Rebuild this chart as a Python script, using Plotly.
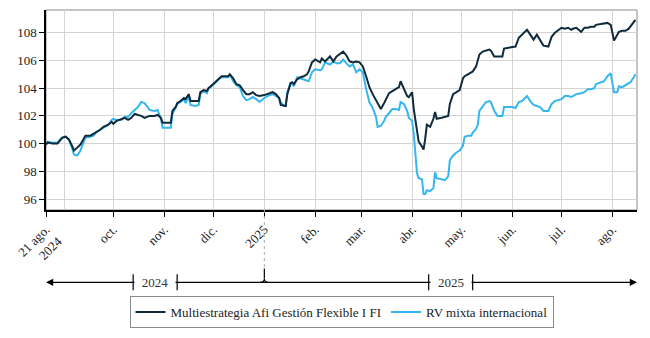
import pandas as pd
import plotly.graph_objects as go

# Índice base 100 (21 ago. 2024)
dates = [
    "2024-08-21", "2024-08-22", "2024-08-25", "2024-08-28", "2024-08-30", "2024-08-31",
    "2024-09-02", "2024-09-04", "2024-09-06", "2024-09-07", "2024-09-09", "2024-09-11",
    "2024-09-13", "2024-09-14", "2024-09-17", "2024-09-19", "2024-09-21", "2024-09-23",
    "2024-09-25", "2024-09-28", "2024-09-30", "2024-10-01", "2024-10-03", "2024-10-06",
    "2024-10-08", "2024-10-10", "2024-10-12", "2024-10-14", "2024-10-16", "2024-10-18",
    "2024-10-20", "2024-10-22", "2024-10-23", "2024-10-26", "2024-10-28", "2024-10-30",
    "2024-10-31", "2024-11-02", "2024-11-05", "2024-11-06", "2024-11-08", "2024-11-09",
    "2024-11-11", "2024-11-13", "2024-11-14", "2024-11-16", "2024-11-17", "2024-11-20",
    "2024-11-22", "2024-11-23", "2024-11-25", "2024-11-27", "2024-11-28", "2024-11-30",
    "2024-12-02", "2024-12-04", "2024-12-06", "2024-12-08", "2024-12-10", "2024-12-11",
    "2024-12-13", "2024-12-15", "2024-12-17", "2024-12-19", "2024-12-21", "2024-12-23",
    "2024-12-25", "2024-12-27", "2024-12-29", "2025-01-01", "2025-01-03", "2025-01-06",
    "2025-01-08", "2025-01-10", "2025-01-11", "2025-01-13", "2025-01-14", "2025-01-15",
    "2025-01-17", "2025-01-18", "2025-01-19", "2025-01-21", "2025-01-23", "2025-01-25",
    "2025-01-27", "2025-01-28", "2025-01-30", "2025-02-01", "2025-02-04", "2025-02-05",
    "2025-02-07", "2025-02-10", "2025-02-12", "2025-02-14", "2025-02-16", "2025-02-18",
    "2025-02-20", "2025-02-22", "2025-02-24", "2025-02-26", "2025-02-28", "2025-03-02",
    "2025-03-04", "2025-03-06", "2025-03-08", "2025-03-10", "2025-03-11", "2025-03-13",
    "2025-03-15", "2025-03-16", "2025-03-18", "2025-03-20", "2025-03-22", "2025-03-24",
    "2025-03-25", "2025-03-27", "2025-03-29", "2025-03-30", "2025-04-01", "2025-04-02",
    "2025-04-04", "2025-04-05", "2025-04-07", "2025-04-08", "2025-04-09", "2025-04-10",
    "2025-04-12", "2025-04-14", "2025-04-15", "2025-04-16", "2025-04-19", "2025-04-21",
    "2025-04-23", "2025-04-24", "2025-04-26", "2025-04-28", "2025-04-30", "2025-05-02",
    "2025-05-03", "2025-05-05", "2025-05-07", "2025-05-08", "2025-05-10", "2025-05-11",
    "2025-05-12", "2025-05-14", "2025-05-16", "2025-05-18", "2025-05-19", "2025-05-21",
    "2025-05-23", "2025-05-25", "2025-05-26", "2025-05-27", "2025-05-30", "2025-06-01",
    "2025-06-03", "2025-06-05", "2025-06-07", "2025-06-09", "2025-06-10", "2025-06-12",
    "2025-06-14", "2025-06-16", "2025-06-18", "2025-06-20", "2025-06-23", "2025-06-25",
    "2025-06-27", "2025-06-29", "2025-07-01", "2025-07-03", "2025-07-05", "2025-07-07",
    "2025-07-08", "2025-07-10", "2025-07-13", "2025-07-15", "2025-07-17", "2025-07-19",
    "2025-07-21", "2025-07-22", "2025-07-25", "2025-07-27", "2025-07-29", "2025-07-31",
    "2025-08-01", "2025-08-02", "2025-08-04", "2025-08-05", "2025-08-07", "2025-08-09",
    "2025-08-11", "2025-08-12", "2025-08-14", "2025-08-15",
]

fondo = [
    99.93, 100.07, 100.00, 100.00, 100.29, 100.43,
    100.50, 100.29, 99.80, 99.50, 99.71, 99.93,
    100.36, 100.57, 100.57, 100.71, 100.86, 101.00,
    101.21, 101.36, 101.57, 101.43, 101.64, 101.79,
    101.86, 101.71, 101.86, 102.14, 102.07, 102.00,
    101.86, 101.93, 102.00, 102.00, 102.07, 101.86,
    101.50, 101.50, 101.50, 102.36, 102.64, 102.93,
    103.07, 103.29, 103.21, 103.57, 103.07, 103.07,
    103.07, 103.71, 103.86, 103.79, 104.00, 104.21,
    104.43, 104.71, 104.86, 104.86, 104.86, 105.00,
    104.71, 104.29, 104.21, 103.86, 103.57, 103.57,
    103.71, 103.50, 103.43, 103.50, 103.57, 103.71,
    103.57, 103.29, 102.79, 102.71, 102.71, 103.57,
    104.36, 104.43, 104.29, 104.64, 104.79, 104.86,
    105.00, 105.21, 105.86, 106.07, 105.86, 106.14,
    105.93, 106.29, 105.93, 106.29, 106.50, 106.64,
    106.36, 105.93, 105.86, 105.93, 105.86, 105.57,
    104.86, 104.07, 103.57, 103.14, 102.86, 102.50,
    102.93, 103.21, 103.64, 103.79, 103.93, 104.07,
    104.50, 103.93, 103.43, 103.36, 103.71, 102.50,
    100.71, 100.14, 99.79, 99.57, 100.36, 101.36,
    101.21, 101.79, 102.29, 101.79, 101.86, 101.93,
    102.00, 102.86, 103.57, 103.71, 103.86, 104.71,
    104.86, 105.00, 105.14, 105.21, 105.57, 106.07,
    106.43, 106.64, 106.71, 106.79, 106.71, 106.29,
    106.29, 106.29, 106.29, 106.86, 106.93, 106.93,
    107.00, 107.64, 107.86, 108.07, 108.21, 107.86,
    107.50, 107.86, 107.50, 107.07, 107.00, 107.71,
    108.00, 108.21, 108.36, 108.29, 108.36, 108.21,
    108.29, 108.36, 108.07, 108.36, 108.36, 108.43,
    108.43, 108.57, 108.64, 108.71, 108.71, 108.57,
    108.07, 107.43, 107.86, 108.07, 108.14, 108.14,
    108.29, 108.43, 108.79, 108.93,
]

categoria = [
    99.93, 100.14, 100.07, 100.07, 100.36, 100.43,
    100.50, 100.29, 99.64, 99.21, 99.14, 99.50,
    100.14, 100.43, 100.50, 100.57, 100.86, 101.00,
    101.14, 101.36, 101.71, 101.79, 101.71, 101.71,
    101.93, 101.93, 102.21, 102.43, 102.64, 103.00,
    102.93, 102.64, 102.43, 102.36, 102.43, 101.79,
    101.14, 101.14, 101.14, 102.14, 102.57, 102.86,
    103.00, 103.21, 102.93, 103.43, 102.79, 102.71,
    102.79, 103.57, 103.79, 103.64, 104.00, 104.14,
    104.36, 104.64, 104.79, 104.79, 104.79, 105.00,
    104.50, 104.21, 104.07, 103.43, 103.14, 103.21,
    103.36, 103.21, 103.00, 103.29, 103.43, 103.57,
    103.43, 103.29, 103.00, 102.71, 102.71, 103.71,
    104.43, 104.29, 104.14, 104.79, 104.71, 104.64,
    104.57, 104.50, 105.14, 105.36, 105.29, 105.36,
    105.86, 105.71, 105.93, 105.79, 105.79, 106.07,
    105.79, 105.57, 105.71, 105.14, 105.36, 105.14,
    103.93, 103.00, 102.57, 101.93, 101.21, 101.29,
    101.64, 101.93, 102.21, 102.50, 102.50, 102.43,
    103.00, 102.86, 102.36, 101.86, 101.64, 100.71,
    97.86, 97.50, 97.43, 96.36, 96.36, 96.64,
    96.57, 96.79, 97.93, 97.50, 97.43, 97.36,
    97.64, 98.79, 99.14, 99.36, 99.50, 99.86,
    100.50, 100.57, 100.57, 100.79, 101.07, 101.36,
    102.36, 102.71, 103.00, 103.07, 103.00, 102.36,
    102.00, 102.00, 102.00, 102.64, 102.64, 102.64,
    102.57, 103.00, 103.07, 103.36, 103.43, 103.07,
    102.79, 102.71, 102.64, 102.36, 102.36, 102.86,
    103.07, 103.14, 103.21, 103.43, 103.43, 103.36,
    103.43, 103.57, 103.64, 103.71, 103.93, 103.93,
    104.00, 104.29, 104.43, 104.50, 104.86, 105.07,
    104.36, 103.71, 103.71, 104.14, 104.07, 104.21,
    104.36, 104.43, 104.79, 105.00,
]

series_names = ["Multiestrategia Afi Gestión Flexible I FI", "RV mixta internacional"]
series_colors = ["#0e2a3b", "#35b6ee"]

x_start, x_end = "2024-08-21", "2025-08-16"
y_min, y_max = 95.21, 109.64

tick_dates = ["2024-08-21", "2024-10-01", "2024-11-01", "2024-12-01", "2025-01-01",
              "2025-02-01", "2025-03-01", "2025-04-01", "2025-05-01", "2025-06-01",
              "2025-07-01", "2025-08-01"]
tick_labels = ["21 ago.<br>2024", "oct.", "nov.", "dic.", "2025", "feb.", "mar.",
               "abr.", "may.", "jun.", "jul.", "ago."]
grid_only_dates = ["2024-09-01"]
y_ticks = [96, 98, 100, 102, 104, 106, 108]

year_break = "2025-01-01"
year_labels = ["2024", "2025"]

FONT = "Liberation Serif"
TEXT = "#222222"

fig = go.Figure()

# category line first so the fund line sits on top; legend keeps the fund first
fig.add_trace(go.Scatter(x=dates, y=categoria, name=series_names[1], mode="lines",
                         line=dict(color=series_colors[1], width=2), legendrank=2))
fig.add_trace(go.Scatter(x=dates, y=fondo, name=series_names[0], mode="lines",
                         line=dict(color=series_colors[0], width=2), legendrank=1))

fig.update_layout(
    width=650, height=338,
    margin=dict(l=46, r=13, t=10, b=126),
    paper_bgcolor="white", plot_bgcolor="white",
    font=dict(family=FONT, size=12, color=TEXT),
    showlegend=True,
    legend=dict(orientation="h", x=0.5, xanchor="center", y=-0.43, yanchor="top",
                bgcolor="white", bordercolor="#8a8a8a", borderwidth=1,
                font=dict(family=FONT, size=13, color=TEXT),
                traceorder="normal", itemwidth=30, tracegroupgap=0),
)

fig.update_xaxes(
    type="date", range=[x_start, x_end],
    tickmode="array", tickvals=tick_dates, ticktext=tick_labels, tickangle=-45,
    ticks="outside", ticklen=5, tickcolor="#000", tickwidth=1,
    showline=True, linecolor="#000", linewidth=1.5,
    showgrid=True, gridcolor="#d4d4d4", gridwidth=1,
    minor=dict(tickmode="array", tickvals=grid_only_dates, showgrid=True,
               gridcolor="#d4d4d4", gridwidth=1, ticks=""),
    tickfont=dict(family=FONT, size=13, color=TEXT),
    zeroline=False,
)
fig.update_yaxes(
    range=[y_min, y_max], tickmode="array", tickvals=y_ticks,
    ticks="outside", ticklen=5, tickcolor="#000", tickwidth=1,
    showline=True, linecolor="#000", linewidth=1.5,
    showgrid=True, gridcolor="#d4d4d4", gridwidth=1,
    tickfont=dict(family=FONT, size=13, color=TEXT),
    zeroline=False,
)

# frame: grey on top and right
fig.add_shape(type="rect", xref="paper", yref="paper", x0=0, x1=1, y0=0, y1=1,
              line=dict(color="#8a8a8a", width=1), layer="below")

# year timeline under the axis
line_y = -0.3614
t0, t1, tb = pd.Timestamp(x_start), pd.Timestamp(x_end), pd.Timestamp(year_break)
mid_a = t0 + (tb - t0) / 2
mid_b = tb + (t1 - tb) / 2

fig.add_shape(type="line", xref="x", yref="paper", x0=mid_a, x1=mid_b, y0=line_y, y1=line_y,
              line=dict(color="#000", width=1.2))
fig.add_annotation(x=t0, y=line_y, xref="x", yref="paper", ax=mid_a, axref="x", ay=0,
                   ayref="pixel", text="", showarrow=True, arrowhead=2, arrowsize=1.2,
                   arrowwidth=1.2, arrowcolor="#000")
fig.add_annotation(x=t1, y=line_y, xref="x", yref="paper", ax=mid_b, axref="x", ay=0,
                   ayref="pixel", text="", showarrow=True, arrowhead=2, arrowsize=1.2,
                   arrowwidth=1.2, arrowcolor="#000")

for mid, label in zip([mid_a, mid_b], year_labels):
    fig.add_annotation(x=mid, y=line_y, xref="x", yref="paper", text=label, showarrow=False,
                       xanchor="center", yanchor="middle",
                       bgcolor="white", borderpad=0, width=40,
                       font=dict(family=FONT, size=13, color="#333"))
    for off in (-22, 22):
        fig.add_shape(type="line", xref="x", yref="paper", xsizemode="pixel", xanchor=mid,
                      ysizemode="pixel", yanchor=line_y, x0=off, x1=off, y0=-8, y1=8,
                      line=dict(color="#000", width=1.2))

# year separator
fig.add_shape(type="line", xref="x", yref="paper", x0=tb, x1=tb, y0=0, y1=-0.292,
              line=dict(color="#aaaaaa", width=1, dash="dot"))
fig.add_shape(type="line", xref="x", yref="paper", x0=tb, x1=tb, y0=-0.292, y1=-0.343,
              line=dict(color="#000", width=1.2))
fig.add_shape(type="path", xref="x", yref="paper", xsizemode="pixel", xanchor=tb,
              ysizemode="pixel", yanchor=line_y, path="M -4,0 Q 0,0 0,3.5 Q 0,0 4,0",
              line=dict(color="#000", width=1.2))

fig.write_html("out.html")
